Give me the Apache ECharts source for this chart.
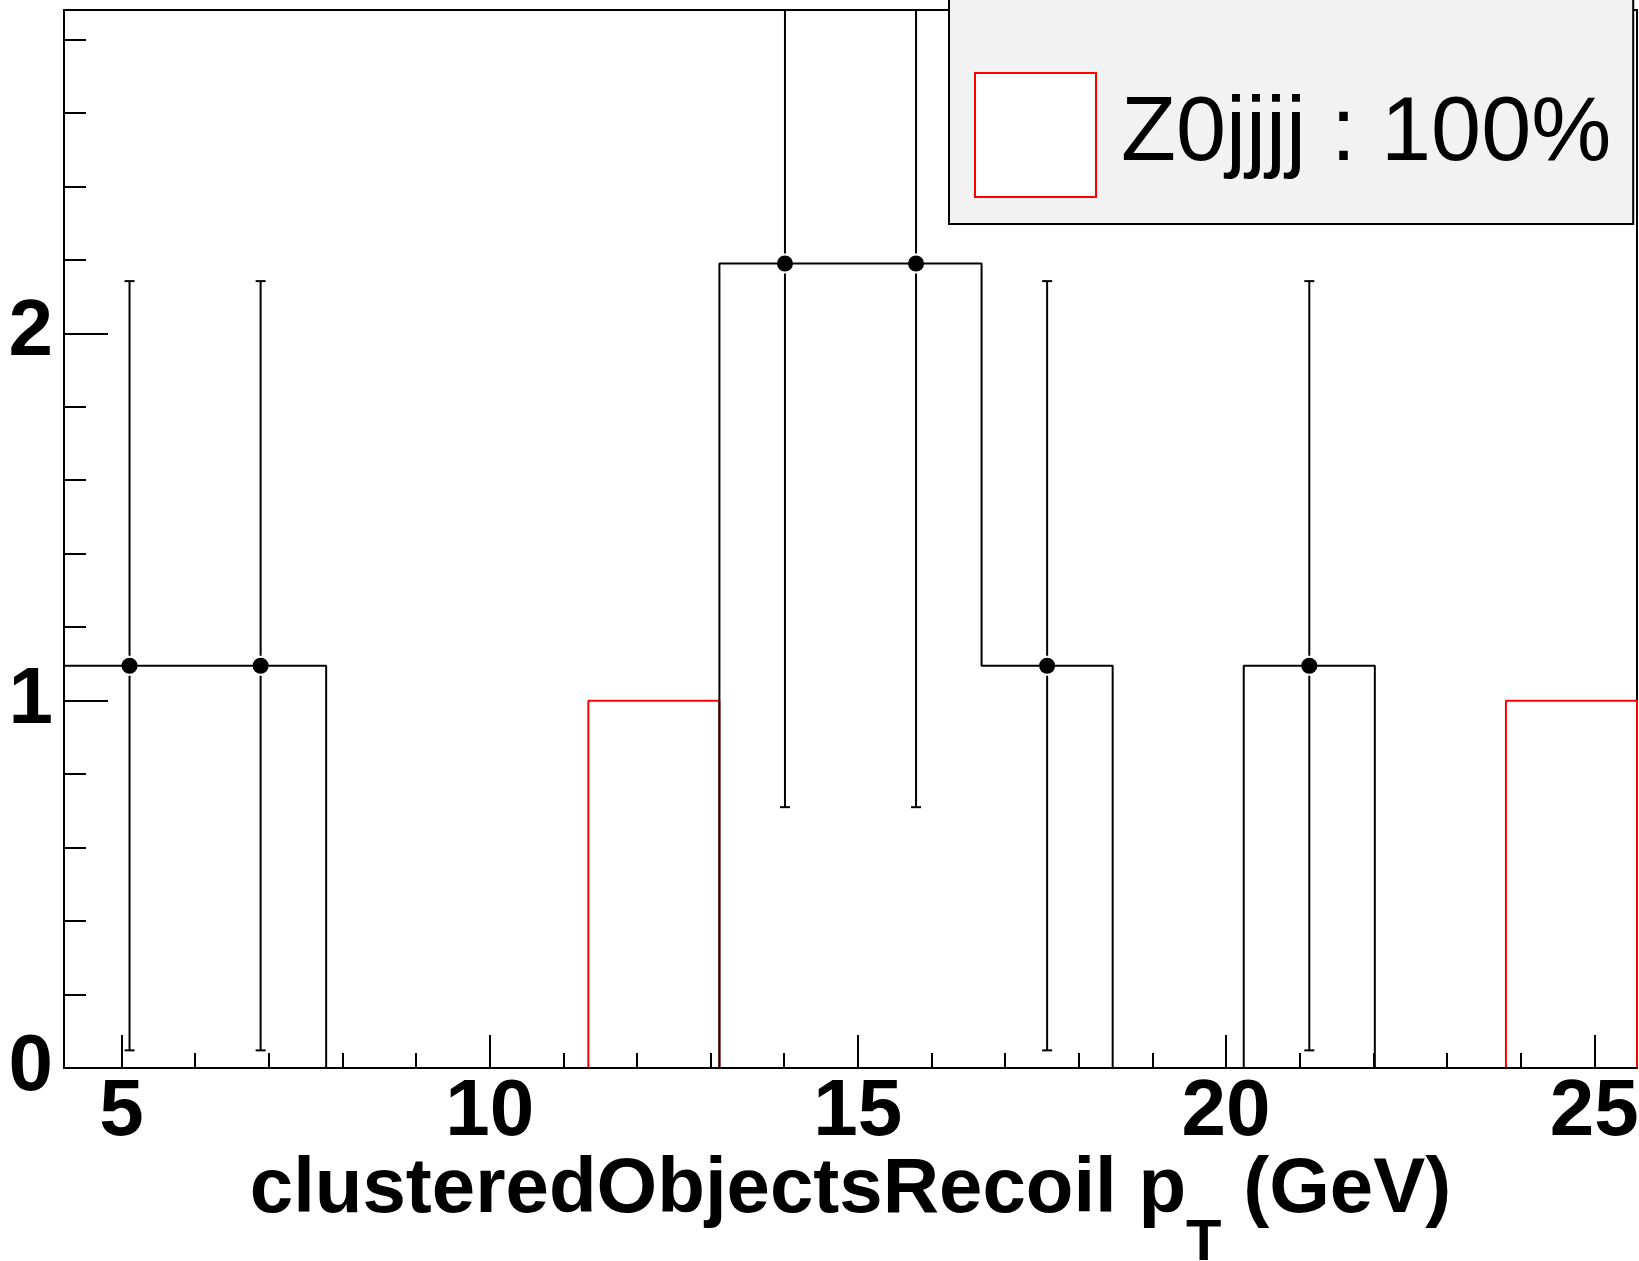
<!DOCTYPE html>
<html>
<head>
<meta charset="utf-8">
<script src="https://cdn.jsdelivr.net/npm/echarts@6/dist/echarts.min.js"></script>
<style>
html,body{margin:0;padding:0;background:#fff;}
#c{width:1639px;height:1261px;}
</style>
</head>
<body>
<div id="c"></div>
<script>
// ---- data ----
const binEdges = [4.22, 6.00, 7.78, 9.56, 11.34, 13.12, 14.90, 16.68, 18.46, 20.24, 22.02, 23.80, 25.58];
const mcZ0jjjj = [0, 0, 0, 0, 1, 0, 0, 0, 0, 0, 0, 1];
const dataHist = [1.095, 1.095, 0, 0, 0, 2.19, 2.19, 1.095, 0, 1.095, 0, 0];
const dataX = [5.11, 6.89, 14.01, 15.79, 17.57, 21.13];
const dataY = [1.095, 1.095, 2.19, 2.19, 1.095, 1.095];
const errLow = [1.047, 1.047, 1.48, 1.48, 1.047, 1.047];
const errHigh = [1.047, 1.047, 1.48, 1.48, 1.047, 1.047];
const xMajorTicks = [5, 10, 15, 20, 25];
const xMinorTicks = [5, 6, 7, 8, 9, 10, 11, 12, 13, 14, 15, 16, 17, 18, 19, 20, 21, 22, 23, 24, 25];
const yMajorTicks = [0, 1, 2];
const yMinorTicks = [0.2, 0.4, 0.6, 0.8, 1.2, 1.4, 1.6, 1.8, 2.2, 2.4, 2.6, 2.8];
const xRange = [4.22, 25.58];
const yRange = [0, 2.88];
const mcName = 'Z0jjjj : 100%';

// build step outlines from bin edges
function histOutline(vals) {
  const pts = [[binEdges[0], 0]];
  for (let i = 0; i < vals.length; i++) pts.push([binEdges[i], vals[i]]);
  pts.push([binEdges[binEdges.length - 1], vals[vals.length - 1]]);
  pts.push([binEdges[binEdges.length - 1], 0]);
  return pts;
}
const FONT = "'Liberation Sans', Arial, Helvetica, sans-serif";

const chart = echarts.init(document.getElementById('c'), null, {renderer: 'canvas'});
const option = {
  animation: false,
  backgroundColor: '#ffffff',
  grid: {
    left: 64, top: 10, right: 2, bottom: 193,
    containLabel: false, outerBoundsMode: 'none',
    show: true, borderColor: '#000', borderWidth: 2, backgroundColor: 'transparent'
  },
  legend: {
    left: 949, top: -40,
    orient: 'vertical',
    padding: [112, 22, 26, 25],
    backgroundColor: '#f2f2f2',
    borderColor: '#000', borderWidth: 2,
    itemWidth: 121, itemHeight: 124,
    data: [{name: mcName, icon: 'rect'}],
    itemStyle: {color: '#ffffff', borderColor: '#ff0000', borderWidth: 2},
    textStyle: {fontFamily: FONT, fontSize: 90, color: '#000', padding: [0, 0, 0, 20]},
    selectedMode: false
  },
  xAxis: [
    {
      type: 'value', min: xRange[0], max: xRange[1], position: 'bottom', z: 5,
      axisLine: {show: true, onZero: false, lineStyle: {color: '#000', width: 2}},
      axisTick: {show: true, inside: true, length: 15, customValues: xMinorTicks, lineStyle: {color: '#000', width: 2}},
      axisLabel: {show: false},
      splitLine: {show: false}
    },
    {
      type: 'value', min: xRange[0], max: xRange[1], position: 'bottom', z: 5,
      axisLine: {show: false, onZero: false},
      axisTick: {show: true, inside: true, length: 33, customValues: xMajorTicks, lineStyle: {color: '#000', width: 2}},
      axisLabel: {show: true, customValues: xMajorTicks, fontFamily: FONT, fontSize: 80, fontWeight: 'bold', color: '#000', margin: 5},
      splitLine: {show: false},
      name: '{a|clusteredObjectsRecoil p}{b|T}{a| (GeV)}',
      nameLocation: 'middle',
      nameGap: 83,
      nameMoveOverlap: false,
      nameTextStyle: {
        rich: {
          a: {fontFamily: FONT, fontSize: 78, fontWeight: 'bold', color: '#000', lineHeight: 78},
          b: {fontFamily: FONT, fontSize: 58, fontWeight: 'bold', color: '#000', lineHeight: 58, padding: [108, 0, 0, 0]}
        }
      }
    }
  ],
  yAxis: [
    {
      type: 'value', min: yRange[0], max: yRange[1], position: 'left', z: 5,
      axisLine: {show: true, onZero: false, lineStyle: {color: '#000', width: 2}},
      axisTick: {show: true, inside: true, length: 22, customValues: yMinorTicks, lineStyle: {color: '#000', width: 2}},
      axisLabel: {show: false},
      splitLine: {show: false}
    },
    {
      type: 'value', min: yRange[0], max: yRange[1], position: 'left', z: 5,
      axisLine: {show: false, onZero: false},
      axisTick: {show: true, inside: true, length: 44, customValues: yMajorTicks, lineStyle: {color: '#000', width: 2}},
      axisLabel: {show: true, customValues: yMajorTicks, fontFamily: FONT, fontSize: 80, fontWeight: 'bold', color: '#000', margin: 11, padding: [14, 0, 0, 0]},
      splitLine: {show: false}
    }
  ],
  series: [
    {
      name: mcName, type: 'line', step: 'end', xAxisIndex: 0, yAxisIndex: 0,
      data: histOutline(mcZ0jjjj), showSymbol: false, symbol: 'none',
      lineStyle: {color: '#ff0000', width: 2}, itemStyle: {color: '#ff0000'}, z: 3, clip: true
    },
    {
      name: 'dataHist', type: 'line', step: 'end', xAxisIndex: 0, yAxisIndex: 0,
      data: histOutline(dataHist), showSymbol: false, symbol: 'none',
      lineStyle: {color: '#000', width: 2}, itemStyle: {color: '#000'}, z: 4, clip: true
    },
    {
      name: 'dataErr', type: 'custom', xAxisIndex: 0, yAxisIndex: 0, z: 5,
      data: dataX.map((x, i) => [x, dataY[i], errLow[i], errHigh[i]]),
      renderItem: function (params, api) {
        const x = api.value(0), y = api.value(1), lo = api.value(2), hi = api.value(3);
        const c = api.coord([x, y]);
        const pLo = api.coord([x, y - lo]);
        const pHi = api.coord([x, y + hi]);
        const top = params.coordSys.y;
        const r = 10, cap = 5;
        const st = {stroke: '#000', lineWidth: 2};
        const ch = [
          {type: 'line', shape: {x1: c[0], y1: c[1] + r, x2: c[0], y2: pLo[1]}, style: st},
          {type: 'line', shape: {x1: c[0] - cap, y1: pLo[1], x2: c[0] + cap, y2: pLo[1]}, style: st},
          {type: 'line', shape: {x1: c[0], y1: c[1] - r, x2: c[0], y2: Math.max(pHi[1], top)}, style: st}
        ];
        if (pHi[1] >= top) ch.push({type: 'line', shape: {x1: c[0] - cap, y1: pHi[1], x2: c[0] + cap, y2: pHi[1]}, style: st});
        return {type: 'group', children: ch};
      }
    },
    {
      name: 'dataPts', type: 'scatter', xAxisIndex: 0, yAxisIndex: 0, z: 6,
      data: dataX.map((x, i) => [x, dataY[i]]),
      symbol: 'circle', symbolSize: 16, itemStyle: {color: '#000', opacity: 1}
    }
  ]
};
chart.setOption(option);
</script>
</body>
</html>
